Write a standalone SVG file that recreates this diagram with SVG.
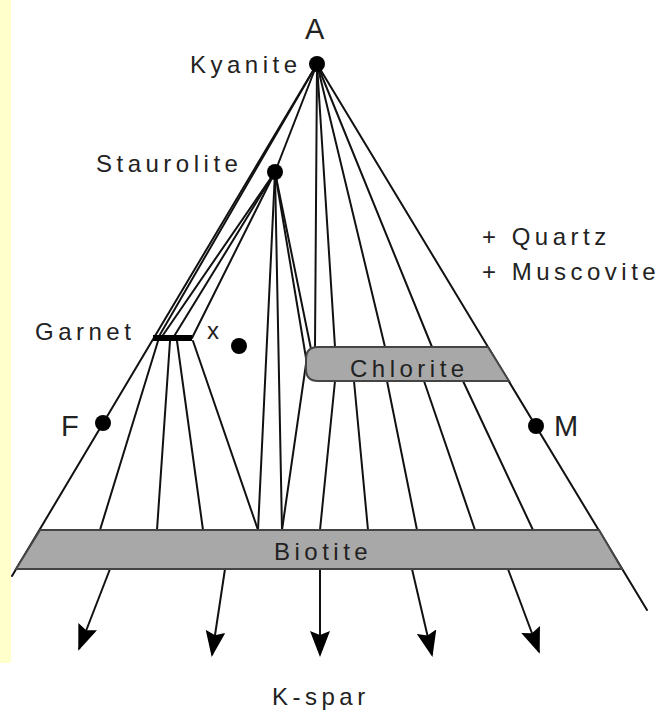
<svg xmlns="http://www.w3.org/2000/svg" width="659" height="723" viewBox="0 0 659 723">
<style>
.ln{stroke:#111;stroke-width:2;fill:none;stroke-linecap:round}
.band{fill:#a8a8a8;stroke:#444;stroke-width:2}
.lbl{font-family:"Liberation Sans",Arial,sans-serif;font-size:24px;letter-spacing:4.5px;fill:#222}
.big{font-family:"Liberation Sans",Arial,sans-serif;font-size:29px;fill:#222}
.dot{fill:#000}
.arr{stroke:#111;stroke-width:2;fill:none;marker-end:url(#ah)}
</style>
<defs>
<marker id="ah" viewBox="0 0 26 20" refX="24" refY="10" markerWidth="26" markerHeight="20" markerUnits="userSpaceOnUse" orient="auto">
<path d="M0,0 L26,10 L0,20 L4,10 Z" fill="#000"/>
</marker>
</defs>
<rect x="0" y="0" width="659" height="723" fill="#fff"/>
<rect x="0" y="0" width="11" height="663" fill="#ffffcc"/>
<g id="connectors">
<line class="ln" x1="317" y1="64" x2="12" y2="576"/>
<line class="ln" x1="317" y1="64" x2="647" y2="610"/>
<line class="ln" x1="317" y1="64" x2="158" y2="338"/>
<line class="ln" x1="317" y1="64" x2="275" y2="172"/>
<line class="ln" x1="317" y1="64" x2="315" y2="347"/>
<line class="ln" x1="317" y1="64" x2="335" y2="347"/>
<line class="ln" x1="317" y1="64" x2="385" y2="347"/>
<line class="ln" x1="317" y1="64" x2="432" y2="347"/>
<line class="ln" x1="275" y1="172" x2="161" y2="338"/>
<line class="ln" x1="275" y1="172" x2="173" y2="338"/>
<line class="ln" x1="275" y1="172" x2="192" y2="338"/>
<line class="ln" x1="275" y1="172" x2="258" y2="530"/>
<line class="ln" x1="275" y1="172" x2="282" y2="530"/>
<line class="ln" x1="275" y1="172" x2="306" y2="358"/>
<line class="ln" x1="275" y1="172" x2="311" y2="349"/>
<line class="ln" x1="306" y1="364" x2="282" y2="530"/>
<line class="ln" x1="158" y1="341" x2="100" y2="530"/>
<line class="ln" x1="170" y1="341" x2="157" y2="530"/>
<line class="ln" x1="177" y1="341" x2="203" y2="530"/>
<line class="ln" x1="193" y1="341" x2="258" y2="530"/>
<line class="ln" x1="335" y1="381" x2="320" y2="530"/>
<line class="ln" x1="354" y1="381" x2="368" y2="530"/>
<line class="ln" x1="387" y1="381" x2="417" y2="530"/>
<line class="ln" x1="424" y1="381" x2="475" y2="530"/>
<line class="ln" x1="463" y1="381" x2="533" y2="530"/>
<line class="arr" x1="110" y1="569" x2="79" y2="649"/>
<line class="arr" x1="225" y1="569" x2="212" y2="655"/>
<line class="arr" x1="320" y1="569" x2="320" y2="655"/>
<line class="arr" x1="412" y1="569" x2="432" y2="655"/>
<line class="arr" x1="508" y1="569" x2="539" y2="652"/>
</g>
<g id="chlorite">
<path class="band" d="M318,347 H488 L509,381 H318 Q306,381 306,369 V359 Q306,347 318,347 Z"/>
<text class="lbl" x="350" y="377">Chlorite</text>
</g>
<g id="biotite">
<polygon class="band" points="40,530 599,530 622,569 16,569"/>
<text class="lbl" x="274" y="560">Biotite</text>
</g>
<g id="garnet">
<line x1="153" y1="338" x2="192" y2="338" stroke="#000" stroke-width="6"/>
<text class="lbl" x="35" y="340">Garnet</text>
</g>
<g id="kyanite">
<circle class="dot" cx="317" cy="64" r="8"/>
<text class="lbl" x="190" y="73">Kyanite</text>
<text class="big" x="305" y="39">A</text>
</g>
<g id="staurolite">
<circle class="dot" cx="275" cy="172" r="8"/>
<text class="lbl" x="96" y="172">Staurolite</text>
</g>
<g id="x">
<circle class="dot" cx="239" cy="346" r="8"/>
<text class="lbl" x="207" y="339">x</text>
</g>
<g id="F">
<circle class="dot" cx="103" cy="423" r="8"/>
<text class="big" x="61" y="436">F</text>
</g>
<g id="M">
<circle class="dot" cx="536" cy="426" r="8"/>
<text class="big" x="554" y="436">M</text>
</g>
<g id="phases">
<text class="lbl" x="482" y="245">+ Quartz</text>
<text class="lbl" x="482" y="280">+ Muscovite</text>
</g>
<g id="kspar">
<text class="lbl" x="272" y="705">K-spar</text>
</g>
</svg>
